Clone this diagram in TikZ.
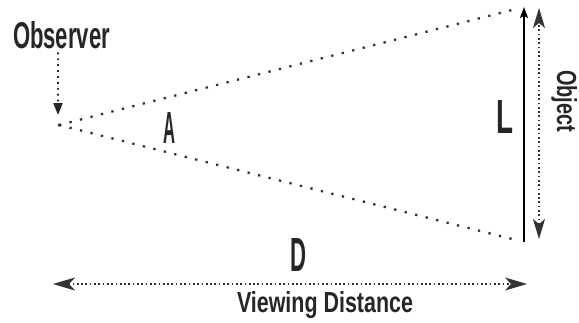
\documentclass[tikz,border=0pt]{standalone}
\usepackage{fontspec}
\setmainfont{Liberation Sans}
\usetikzlibrary{arrows.meta}
\tikzset{
  lbl/.style={inner sep=0pt, outer sep=0pt, anchor=base west, text=black!85, font=\bfseries},
  sparse/.style={line width=2.3pt, dash pattern=on 2.3pt off 8.5pt, black!80},
  dense/.style={line width=1.7pt, dash pattern=on 1.7pt off 2.6pt, black!80},
  obsdots/.style={line width=1.9pt, dash pattern=on 1.9pt off 4pt, black!85},
}
\begin{document}
\begin{tikzpicture}[x=1pt, y=-1pt]
\useasboundingbox[fill=white] (0,0) rectangle (579,322);
% labels
\node[lbl] (observer) at (13,48) {\resizebox{97pt}{27pt}{Observer}};
\node[lbl] (angle) at (163,143) {\resizebox{12pt}{31pt}{A}};
\node[lbl] (dist) at (290,271) {\resizebox{16pt}{33pt}{D}};
\node[lbl] (len) at (496,133) {\resizebox{17pt}{33pt}{L}};
\node[lbl, rotate=-90] (object) at (557,70) {\resizebox{62pt}{20pt}{Object}};
\node[lbl] (viewing) at (237,312) {\resizebox{176pt}{21pt}{Viewing Distance}};
% points
\coordinate (obs) at (59,125);
\coordinate (obsarrow) at (58,115);
\coordinate (ot) at (524,7);
\coordinate (ob) at (524,242);
\coordinate (oat) at (539,8);
\coordinate (oab) at (539,239);
\coordinate (dl) at (53,284);
\coordinate (dr) at (527,284);
% observer point
\fill[black!85] (obs) circle (1.5pt);
% sight lines
\draw[sparse, shorten >=11pt] (obs) -- (ot);
\draw[sparse, shorten >=12pt] (obs) -- (ob);
% observer arrow
\draw[obsdots, -{Triangle[length=12pt, width=9pt]}] ([shift={(-3.5pt,-4pt)}]observer.south) -- (obsarrow);
% object
\draw[line width=1.6pt, -{Stealth[length=11pt, width=8pt, inset=2pt]}] (ob) -- (ot);
\draw[dense, {Stealth[length=20pt, width=12pt, inset=5pt]}-{Stealth[length=20pt, width=12pt, inset=5pt]}] (oab) -- (oat);
% distance
\draw[dense, {Stealth[length=22pt, width=13pt, inset=6pt]}-{Stealth[length=22pt, width=13pt, inset=6pt]}] (dl) -- (dr);
\end{tikzpicture}
\end{document}
